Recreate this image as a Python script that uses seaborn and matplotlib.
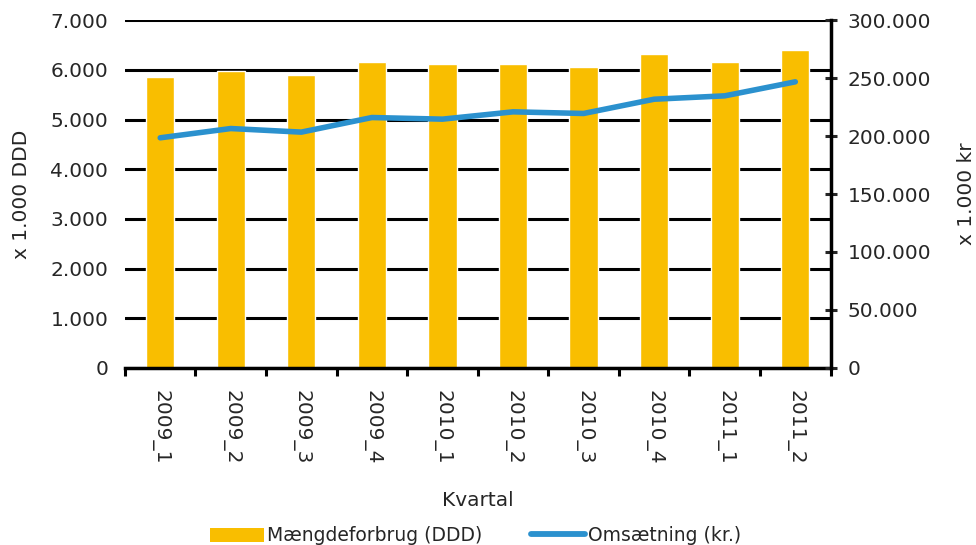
import matplotlib
matplotlib.use("Agg")
import matplotlib.pyplot as plt
import matplotlib.ticker as mticker
from matplotlib.patches import Patch
from matplotlib.lines import Line2D
import pandas as pd
import seaborn as sns

# data
quarters = ["2009_1", "2009_2", "2009_3", "2009_4", "2010_1",
            "2010_2", "2010_3", "2010_4", "2011_1", "2011_2"]
ddd = [5860, 5980, 5900, 6150, 6110, 6110, 6060, 6310, 6150, 6390]
omsaetning = [198500, 206500, 203400, 216000, 214600,
              220900, 219500, 231800, 234700, 246800]

bar_color = "#F9BE00"
line_color = "#2B91CE"

sns.set_style("white")
plt.rcParams["font.family"] = ["DejaVu Sans"]

df = pd.DataFrame({"Kvartal": quarters, "DDD": ddd, "kr": omsaetning})
df["pos"] = range(len(df))

fig = plt.figure(figsize=(9.76, 5.45), dpi=100)
ax = fig.add_axes([0.128, 0.325, 0.723, 0.638])

sns.barplot(data=df, x="Kvartal", y="DDD", color=bar_color, width=0.4,
            saturation=1, ax=ax, zorder=3)
ax.set_ylim(0, 7000)
ax.set_xlim(-0.5, len(quarters) - 0.5)
ax.yaxis.set_major_locator(mticker.MultipleLocator(1000))
fmt = mticker.FuncFormatter(lambda v, p: f"{v:,.0f}".replace(",", "."))
ax.yaxis.set_major_formatter(fmt)
ax.grid(axis="y", color="black", linewidth=2.2, zorder=1)
ax.set_axisbelow(True)
for s in ["left", "top", "right"]:
    ax.spines[s].set_visible(False)
ax.spines["bottom"].set_color("black")
ax.spines["bottom"].set_linewidth(2.5)
ax.spines["bottom"].set_zorder(5)
ax.tick_params(axis="y", length=0, labelsize=14.5, pad=12)

# category boundary ticks on the x axis
ax.set_xticks(range(len(quarters)))
ax.set_xticklabels(quarters, rotation=-90, fontsize=14.5)
ax.tick_params(axis="x", which="major", bottom=True, length=0, pad=16)
ax.set_xticks([i - 0.5 for i in range(len(quarters) + 1)], minor=True)
ax.tick_params(axis="x", which="minor", bottom=True, length=6, width=2.2,
               color="black", direction="out")

ax.set_ylabel("x 1.000 DDD", fontsize=14.5, labelpad=14)
ax.set_xlabel("Kvartal", fontsize=14.5)
ax.xaxis.set_label_coords(0.5, -0.355)
ax.xaxis.label.set_va("top")

ax2 = ax.twinx()
sns.lineplot(data=df, x="pos", y="kr", color=line_color, linewidth=4.0,
             ax=ax2, zorder=4, solid_capstyle="round")
ax2.set_ylim(0, 300000)
ax2.set_xlim(-0.5, len(quarters) - 0.5)
ax2.yaxis.set_major_locator(mticker.MultipleLocator(50000))
ax2.yaxis.set_major_formatter(fmt)
ax2.tick_params(axis="y", right=True, direction="inout", length=9, width=2.2,
                labelsize=14.5, pad=8)
for s in ["left", "top", "bottom"]:
    ax2.spines[s].set_visible(False)
ax2.spines["right"].set_color("black")
ax2.spines["right"].set_linewidth(2.5)
ax2.set_ylabel("x 1.000 kr", fontsize=14.5, rotation=90, labelpad=18)
ax2.grid(False)

handles = [Patch(facecolor=bar_color, edgecolor="none", label="Mængdeforbrug (DDD)"),
           Line2D([0], [0], color=line_color, linewidth=4.2, solid_capstyle="round",
                  label="Omsætning (kr.)")]
fig.legend(handles=handles, loc="center", bbox_to_anchor=(0.487, 0.017), ncol=2,
           frameon=False, fontsize=13.5, handlelength=2.9, handletextpad=0.15,
           columnspacing=2.6, handleheight=0.8)

fig.savefig("out.png", dpi=100)
